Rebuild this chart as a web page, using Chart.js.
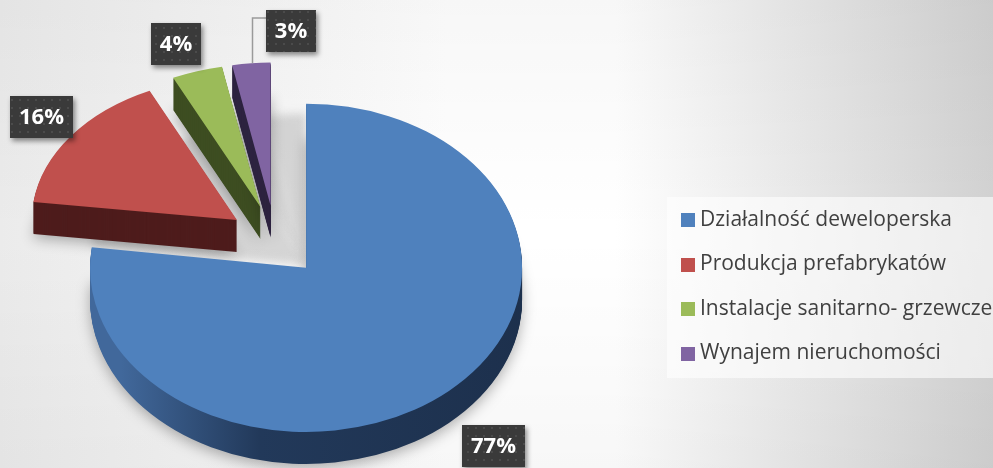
<!DOCTYPE html>
<html><head><meta charset="utf-8">
<script src="https://cdn.jsdelivr.net/npm/chart.js@4.4.1/dist/chart.umd.min.js"></script>
<style>html,body{margin:0;padding:0;overflow:hidden;background:#fff}#wrap{position:relative;width:993px;height:468px}</style>
</head><body><div id="wrap"><canvas id="c" width="993" height="468"></canvas></div>
<script>
// ---- data ----
const categories = ['Działalność deweloperska', 'Produkcja prefabrykatów', 'Instalacje sanitarno- grzewcze', 'Wynajem nieruchomości'];
const shares = [77, 16, 4, 3];
const topColors = ['#4f81bd', '#c0504d', '#9bbb59', '#8064a2'];
const sideColors = ['#1f3452', '#4e1c1c', '#3d4d21', '#2e2440'];

// ---- 3D look settings ----
const TILT = 0.76, DEPTH = 32, EXPLODE = 47, RADIUS = 216;
const BACK_SCALE = [0.95, 0.87];          // fake perspective for slices lying at the back
const labelRadial = [1.31, 1.20, 1.20, 1.23];
const labelNudgeX = [0, 4, -8, 44];
const labelNudgeY = [17, -2, 0, 0];

function midAngle(el) { return (el.startAngle + el.endAngle) / 2; }
function explodeVec(el) {
  const a = midAngle(el);
  return [Math.cos(a) * EXPLODE, Math.sin(a) * EXPLODE];
}
function persp(el) { return Math.sin(midAngle(el)) < 0 ? BACK_SCALE : [1, 1]; }

let dotPattern = null;
function getPattern(ctx) {
  if (dotPattern) return dotPattern;
  const pc = document.createElement('canvas');
  pc.width = 8; pc.height = 8;
  const p = pc.getContext('2d');
  p.fillStyle = '#3a3a3a'; p.fillRect(0, 0, 8, 8);
  p.fillStyle = '#4b4b4b'; p.fillRect(3, 3, 2, 2);
  dotPattern = ctx.createPattern(pc, 'repeat');
  return dotPattern;
}

function withSliceTransform(ctx, el, cx, cy, dy, fn) {
  const [ex, ey] = explodeVec(el);
  const [sx, sy] = persp(el);
  ctx.save();
  ctx.translate(ex, ey + dy);
  ctx.translate(cx, cy); ctx.scale(sx, sy); ctx.translate(-cx, -cy);
  fn();
  ctx.restore();
}

const pie3d = {
  id: 'pie3d',
  beforeDraw(chart) {
    const ctx = chart.ctx, W = chart.width, H = chart.height;
    ctx.save();
    const g = ctx.createLinearGradient(0, 0, W, 0);
    g.addColorStop(0, '#ebebeb');
    g.addColorStop(0.45, '#ffffff');
    g.addColorStop(0.62, '#ffffff');
    g.addColorStop(1, '#d2d2d2');
    ctx.fillStyle = g; ctx.fillRect(0, 0, W, H);
    const v = ctx.createLinearGradient(0, 0, 0, H);
    v.addColorStop(0, 'rgba(0,0,0,0.03)');
    v.addColorStop(0.5, 'rgba(0,0,0,0)');
    v.addColorStop(1, 'rgba(0,0,0,0.03)');
    ctx.fillStyle = v; ctx.fillRect(0, 0, W, H);
    // legend panel
    ctx.fillStyle = 'rgba(255,255,255,0.6)';
    ctx.fillRect(667, 197, W - 667, 181);
    ctx.restore();
  },
  beforeDatasetsDraw(chart) {
    const ctx = chart.ctx;
    const els = chart.getDatasetMeta(0).data;
    const cx = els[0].x, cy = els[0].y;
    ctx.save();
    ctx.translate(cx, cy); ctx.scale(1, TILT); ctx.translate(-cx, -cy);

    // soft shadow where the exploded slices came from
    const [bx, by] = explodeVec(els[0]);
    els.forEach((el, i) => {
      if (i === 0) return;
      const orig = el.options;
      el.options = Object.assign({}, orig, {backgroundColor: 'rgba(150,150,150,0.35)', borderWidth: 0});
      ctx.save(); ctx.filter = 'blur(4px)';
      ctx.translate(bx, by - 4);
      ctx.translate(cx, cy); ctx.scale(1, 0.92); ctx.translate(-cx, -cy);
      el.draw(ctx);
      ctx.restore();
      el.options = orig;
    });

    // side walls
    els.forEach((el, i) => {
      const [ex] = explodeVec(el);
      let fill = sideColors[i];
      if (i === 0) {
        const gx = ctx.createLinearGradient(cx + ex - RADIUS, 0, cx + ex + RADIUS, 0);
        gx.addColorStop(0, '#41689b');
        gx.addColorStop(0.32, '#22395a');
        gx.addColorStop(1, '#1c2f4b');
        fill = gx;
      }
      const orig = el.options;
      el.options = Object.assign({}, orig, {backgroundColor: fill, borderWidth: 0});
      for (let d = DEPTH; d >= 1; d -= 1) {
        withSliceTransform(ctx, el, cx, cy, d / TILT, () => {
          if (d === DEPTH) { ctx.shadowColor = 'rgba(0,0,0,0.3)'; ctx.shadowBlur = 14; ctx.shadowOffsetY = 4; }
          el.draw(ctx);
        });
      }
      el.options = orig;
    });

    // top faces
    els.forEach(el => withSliceTransform(ctx, el, cx, cy, 0, () => el.draw(ctx)));
    ctx.restore();
    return false;
  },
  afterDraw(chart) {
    const ctx = chart.ctx;
    const els = chart.getDatasetMeta(0).data;
    const cx = els[0].x, cy = els[0].y;
    ctx.save();
    // data labels
    ctx.font = 'bold 22px "Open Sans"';
    ctx.textAlign = 'center'; ctx.textBaseline = 'middle';
    els.forEach((el, i) => {
      const a = midAngle(el);
      const [ex, ey] = explodeVec(el);
      const [sx, sy] = persp(el);
      const ax = cx + ex, ay = cy + ey * TILT;
      const rr = RADIUS * labelRadial[i];
      const lx = ax + Math.cos(a) * rr * sx + labelNudgeX[i];
      const ly = ay + Math.sin(a) * rr * TILT * sy + labelNudgeY[i];
      const txt = shares[i] + '%';
      const tw = ctx.measureText(txt).width;
      const w = Math.round(tw + 18), h = 42;
      const x0 = Math.round(lx - w / 2), y0 = Math.round(ly - h / 2);
      if (labelNudgeX[i] > 20) {
        const ox = Math.round(ax + Math.cos(a) * RADIUS * sx * 0.97) + 0.5;
        const oy = ay + Math.sin(a) * RADIUS * TILT * sy;
        ctx.strokeStyle = '#9a9a9a'; ctx.lineWidth = 1.5;
        ctx.beginPath();
        ctx.moveTo(ox, oy); ctx.lineTo(ox, y0 + 8); ctx.lineTo(x0, y0 + 8);
        ctx.stroke();
      }
      ctx.save();
      ctx.shadowColor = 'rgba(0,0,0,0.45)'; ctx.shadowBlur = 5; ctx.shadowOffsetX = 2; ctx.shadowOffsetY = 3;
      ctx.fillStyle = '#3a3a3a';
      ctx.fillRect(x0, y0, w, h);
      ctx.restore();
      ctx.fillStyle = getPattern(ctx);
      ctx.fillRect(x0, y0, w, h);
      ctx.fillStyle = '#ffffff';
      ctx.fillText(txt, x0 + w / 2, y0 + h / 2 + 1);
    });
    // legend
    ctx.font = '21px "Open Sans"';
    ctx.textAlign = 'left'; ctx.textBaseline = 'middle';
    chart.data.labels.forEach((lab, i) => {
      const yy = 220 + i * 44.5;
      ctx.fillStyle = chart.data.datasets[0].backgroundColor[i];
      ctx.fillRect(681, Math.round(yy - 7), 14, 14);
      ctx.fillStyle = '#404040';
      ctx.fillText(lab, 700, yy);
    });
    ctx.restore();
  }
};

new Chart(document.getElementById('c'), {
  type: 'pie',
  data: {
    labels: categories,
    datasets: [{ data: shares, backgroundColor: topColors, borderWidth: 0 }]
  },
  options: {
    responsive: false,
    devicePixelRatio: 1,
    animation: false,
    radius: RADIUS,
    layout: { padding: { left: 0, right: 443, top: 14, bottom: 0 } },
    plugins: { legend: { display: false }, tooltip: { enabled: false } }
  },
  plugins: [pie3d]
});
</script>
</body></html>
